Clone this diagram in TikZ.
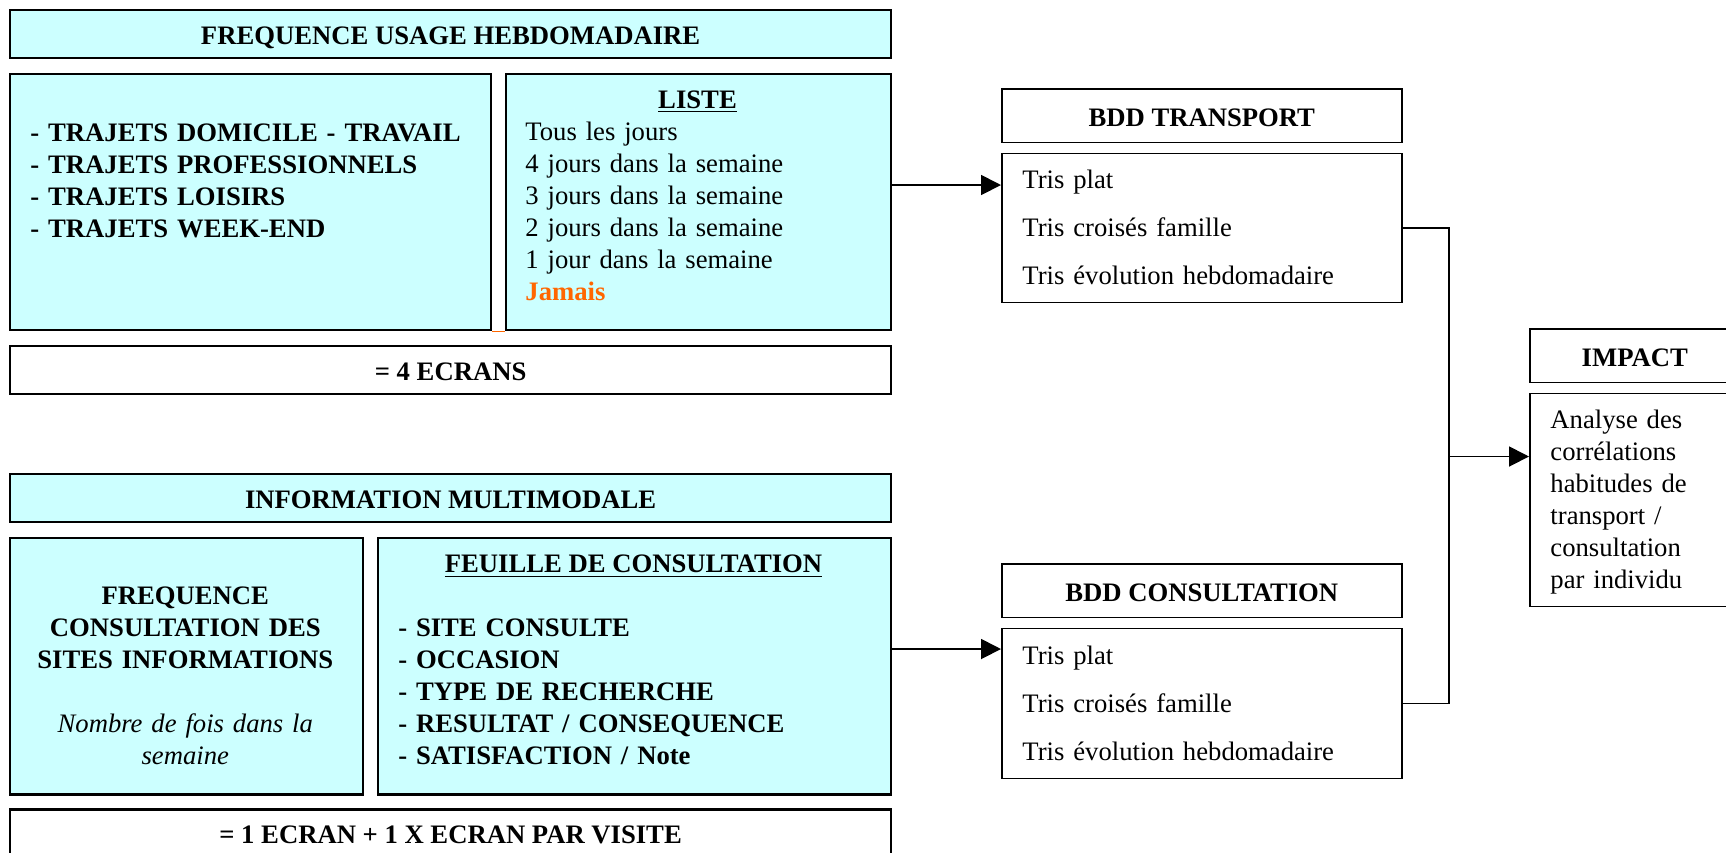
\documentclass[tikz,border=0pt]{standalone}
\usepackage{fontspec}
\setmainfont{Liberation Serif}
\usetikzlibrary{arrows.meta}
\usetikzlibrary{positioning}
\definecolor{box-cyan}{HTML}{CCFFFF}
\definecolor{jamais-orange}{HTML}{FF6600}
\tikzset{
  box/.style 2 args={
    draw,
    anchor=north west,
    inner sep=0pt,
    minimum width=#1,
    minimum height=#2},
}

\begin{document}
\begin{tikzpicture}[
  x=0.45pt, y=-0.45pt,
  heavy/.style={line width=1pt},
  light/.style={line width=0.7pt},
  title/.style={font=\bfseries\fontsize{12}{14.4}\selectfont, text height=10pt, text depth=0.5pt},
  note/.style={inner sep=0pt, font=\fontsize{12}{14.4}\selectfont, align=left, anchor=base west},
  boldnote/.style={note, font=\bfseries\fontsize{12}{14.4}\selectfont},
  items/.style={note, font=\fontsize{12}{21.6}\selectfont},
  link/.style={line width=0.8pt},
  arrow/.style={link, -{Triangle[length=9pt, width=9pt]}}
]
\useasboundingbox (0,0) rectangle (1726,852);

% Frequence usage
\node[box={396.45pt}{21.6pt}, heavy, fill=box-cyan, title] (freqtitle) at (9,9) {FREQUENCE USAGE HEBDOMADAIRE};
\node[box={216.45pt}{115.3pt}, heavy, fill=box-cyan] (trajets) at (9,72.7) {};
\node[box={173.25pt}{115.3pt}, heavy, fill=box-cyan] (liste) at (505,72.7) {};
\node[box={396.45pt}{21.5pt}, heavy, title] (ecrans4) at (9,345) {= 4 ECRANS};
\draw[jamais-orange, line width=0.5pt] (trajets.south east) -- (liste.south west);

\node[boldnote, text width=200pt] (trajtext) at (30,141) {%
- TRAJETS DOMICILE - TRAVAIL\\
- TRAJETS PROFESSIONNELS\\
- TRAJETS LOISIRS\\
- TRAJETS WEEK-END};
\node[boldnote, anchor=base] (listehead) at (697.5,108.3) {\underline{LISTE}};
\node[note, text width=160pt] (listetext) at (525,140) {%
Tous les jours\\
4 jours dans la semaine\\
3 jours dans la semaine\\
2 jours dans la semaine\\
1 jour dans la semaine\\
\textcolor{jamais-orange}{\textbf{Jamais}}};

% Information multimodale
\node[box={396.45pt}{21.7pt}, heavy, fill=box-cyan, title] (infotitle) at (9,472.7) {INFORMATION MULTIMODALE};
\node[box={158.7pt}{115.5pt}, heavy, fill=box-cyan] (freqcons) at (9,536.7) {};
\node[box={230.85pt}{115.5pt}, heavy, fill=box-cyan] (feuille) at (377,536.7) {};
\node[box={396.45pt}{21.6pt}, heavy, title] (ecran1) at (9,808.3) {= 1 ECRAN + 1 X ECRAN PAR VISITE};

\node[boldnote, anchor=base, align=center, text width=155pt] (freqconstext) at (185.3,604.3) {%
FREQUENCE\\
CONSULTATION DES\\
SITES INFORMATIONS\\[14.4pt]
{\mdseries\itshape Nombre de fois dans la\\ semaine}};
\node[boldnote, anchor=base] (feuillehead) at (633.5,572.7) {\underline{FEUILLE DE CONSULTATION}};
\node[boldnote, text width=200pt] (feuilletext) at (397.8,636) {%
- SITE CONSULTE\\
- OCCASION\\
- TYPE DE RECHERCHE\\
- RESULTAT / CONSEQUENCE\\
- SATISFACTION / Note};

% Bases de donnees
\node[box={180pt}{24pt}, light, title] (trtitle) at (1001,88.3) {BDD TRANSPORT};
\node[box={180pt}{67pt}, light] (trbody) at (1001,152.7) {};
\node[items, text width=170pt] (trtext) at (1022,188.3) {%
Tris plat\\
Tris croisés famille\\
Tris évolution hebdomadaire};
\node[box={180pt}{24pt}, light, title] (cotitle) at (1001,563.3) {BDD CONSULTATION};
\node[box={180pt}{67.5pt}, light] (cobody) at (1001,627.7) {};
\node[items, text width=170pt] (cotext) at (1022,664) {%
Tris plat\\
Tris croisés famille\\
Tris évolution hebdomadaire};

% Impact
\node[box={94.5pt}{24pt}, light, title] (imptitle) at (1529,328.3) {IMPACT};
\node[box={94.5pt}{95.85pt}, light] (impbody) at (1529,392.7) {};
\node[note, text width=85pt] (imptext) at (1550,428.3) {%
Analyse des\\
corrélations\\
habitudes de\\
transport /\\
consultation\\
par individu};

% Edges
\coordinate (trin) at (1001,185);
\coordinate (coin) at (1001,649);
\coordinate (spine) at (1449,456.5);
\draw[arrow] (liste.east |- trin) -- (trin);
\draw[arrow] (feuille.east |- coin) -- (coin);
\draw[link] (trbody.east) -| (spine) |- (cobody.east);
\draw[arrow] (spine) -- (impbody.west |- spine);
\end{tikzpicture}
\end{document}
